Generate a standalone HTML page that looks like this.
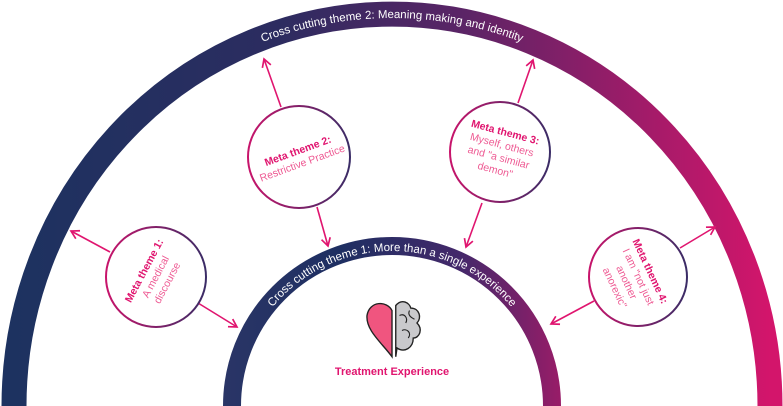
<!DOCTYPE html>
<html><head><meta charset="utf-8"><style>
html,body{margin:0;padding:0;background:#fff;}
svg{display:block;font-family:"Liberation Sans",sans-serif;}
</style></head><body>
<svg width="783" height="406" viewBox="0 0 783 406" xmlns="http://www.w3.org/2000/svg">
<defs>
<linearGradient id="g" x1="0" y1="0" x2="1" y2="0">
<stop offset="0" stop-color="#1d3260"/><stop offset="0.35" stop-color="#2c2c60"/><stop offset="0.6" stop-color="#5c2466"/><stop offset="1" stop-color="#d3156b"/>
</linearGradient>
<linearGradient id="gi" gradientUnits="userSpaceOnUse" x1="222" y1="0" x2="563" y2="0">
<stop offset="0" stop-color="#2a3566"/><stop offset="0.35" stop-color="#1e2f62"/><stop offset="0.7" stop-color="#44286a"/><stop offset="1" stop-color="#9a1c68"/>
</linearGradient>
<linearGradient id="gc" x1="0" y1="0" x2="1" y2="0">
<stop offset="0" stop-color="#c8146b"/><stop offset="1" stop-color="#3a2c66"/>
</linearGradient>
<path id="outerP" d="M 18 406 A 374 388 0 0 1 766 406"/>
<path id="innerP" d="M 237 406 A 155 155 0 0 1 547 406"/>
<marker id="ah" viewBox="0 0 10 10" refX="8" refY="5" markerWidth="7" markerHeight="7" orient="auto-start-reverse">
<path d="M1 1 L8 5 L1 9" fill="none" stroke="#e0156f" stroke-width="1.5"/>
</marker>
</defs>
<path d="M 14 406 A 378 392 0 0 1 770 406" fill="none" stroke="url(#g)" stroke-width="25"/>
<path d="M 232 406 A 160 160 0 0 1 552 406" fill="none" stroke="url(#gi)" stroke-width="18"/>
<text font-size="11.5" fill="#fff"><textPath href="#outerP" startOffset="50%" text-anchor="middle">Cross cutting theme 2: Meaning making and identity</textPath></text>
<text font-size="11.5" fill="#fff"><textPath href="#innerP" startOffset="50%" text-anchor="middle">Cross cutting theme 1: More than a single experience</textPath></text>
<g stroke="#e0156f" stroke-width="1.6" fill="none" marker-end="url(#ah)">
<line x1="110" y1="252" x2="71" y2="231"/>
<line x1="198" y1="303" x2="237" y2="327"/>
<line x1="281" y1="107" x2="264" y2="59"/>
<line x1="317" y1="207" x2="328" y2="246"/>
<line x1="518" y1="103" x2="533" y2="60"/>
<line x1="482" y1="203" x2="466" y2="247"/>
<line x1="680" y1="248" x2="715" y2="227"/>
<line x1="594" y1="301" x2="551" y2="324"/>
</g>
<g fill="#fff" stroke="url(#gc)" stroke-width="2">
<circle cx="156" cy="277" r="50"/>
<circle cx="299" cy="157" r="51"/>
<circle cx="500" cy="152" r="50"/>
<circle cx="638" cy="277" r="49"/>
</g>
<g font-size="10.5" text-anchor="middle">
<g transform="translate(156,277) rotate(-62)">
<text y="-10" fill="#e0156f" font-weight="bold">Meta theme 1:</text>
<text y="3" fill="#ee5a93">A medical</text>
<text y="16" fill="#ee5a93">discourse</text>
</g>
<g transform="translate(300,157) rotate(-20)">
<text y="-3" fill="#e0156f" font-weight="bold">Meta theme 2:</text>
<text y="10" fill="#ee5a93">Restrictive Practice</text>
</g>
<g transform="translate(500,152) rotate(15)">
<text y="-17" fill="#e0156f" font-weight="bold">Meta theme 3:</text>
<text y="-4" fill="#ee5a93">Myself, others</text>
<text y="9" fill="#ee5a93">and "a similar</text>
<text y="22" fill="#ee5a93">demon"</text>
</g>
<g transform="translate(638,277) rotate(65)">
<text y="-10" fill="#e0156f" font-weight="bold">Meta theme 4:</text>
<text y="3" fill="#ee5a93">I am "not just</text>
<text y="16" fill="#ee5a93">another</text>
<text y="29" fill="#ee5a93">anorexic"</text>
</g>
</g>
<g transform="translate(392,323) scale(1.25)">
<path d="M0 -10 C-4 -18 -18 -18 -20 -6 C-21 6 -8 16 0 27 Z" fill="#f0557f" stroke="#222" stroke-width="1.1"/>
<path d="M3 -14 C8 -20 14 -16 15 -12 C22 -12 24 -4 20 0 C25 5 22 12 17 12 C17 20 10 24 4 20 L3 27 Z" fill="#c9c9cc" stroke="#222" stroke-width="1.1"/>
<path d="M6 -6 C10 -8 13 -4 11 0 M8 6 C12 4 16 8 13 12 M14 -10 C12 -6 16 -4 18 -3" fill="none" stroke="#222" stroke-width="0.9"/>
</g>
<text x="392" y="375" font-size="11" font-weight="bold" fill="#e0156f" text-anchor="middle">Treatment Experience</text>
</svg>
</body></html>
